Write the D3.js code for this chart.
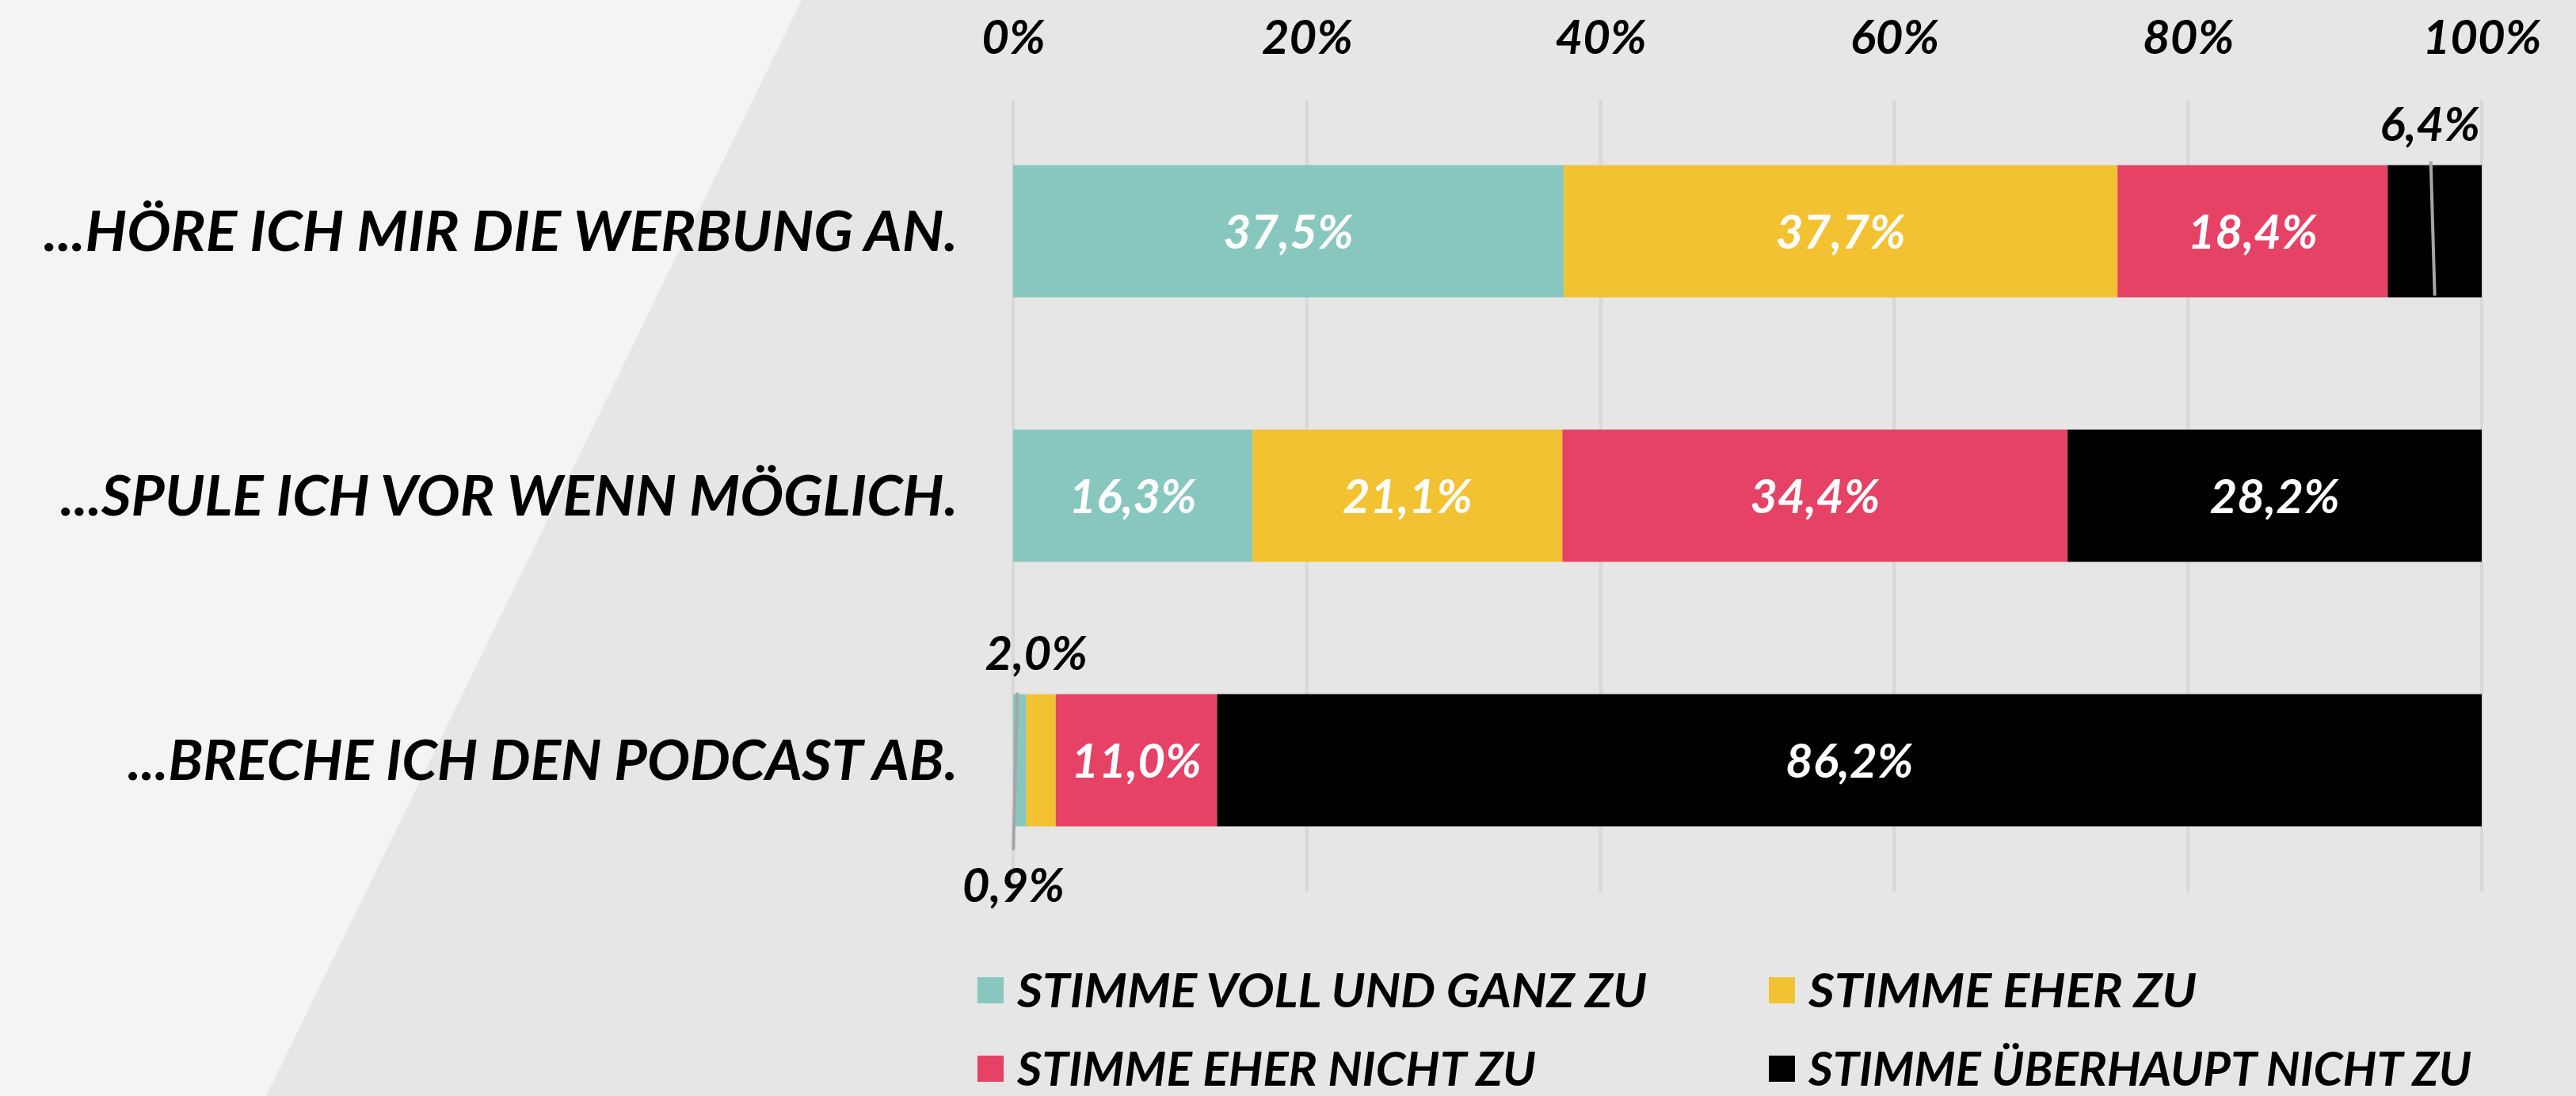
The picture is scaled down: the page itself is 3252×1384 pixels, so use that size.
<!DOCTYPE html>
<html>
<head>
<meta charset="utf-8">
<script src="https://cdn.jsdelivr.net/npm/d3@7"></script>
<style>
  html, body { margin: 0; padding: 0; background: #e6e6e6; }
  svg { display: block; }
  text { font-family: "Lato", "Open Sans", sans-serif; font-style: italic; font-weight: 700; }
</style>
</head>
<body>
<div id="chart"></div>
<script>
// Podcast-Werbung: Zustimmung je Aussage
const categories = [
  "...HÖRE ICH MIR DIE WERBUNG AN.",
  "...SPULE ICH VOR WENN MÖGLICH.",
  "...BRECHE ICH DEN PODCAST AB."
]
const seriesNames = [
  "STIMME VOLL UND GANZ ZU",
  "STIMME EHER ZU",
  "STIMME EHER NICHT ZU",
  "STIMME ÜBERHAUPT NICHT ZU"
]
const vollUndGanz = [37.5, 16.3, 0.9]
const eherZu = [37.7, 21.1, 2.0]
const eherNicht = [18.4, 34.4, 11.0]
const ueberhauptNicht = [6.4, 28.2, 86.2]
const tickValues = [0, 20, 40, 60, 80, 100]

const colors = ["#88c7bd", "#f2c232", "#e54265", "#000000"]

const width = 3252
const height = 1384

const svg = d3.select("#chart")
  .append("svg")
  .attr("width", width)
  .attr("height", height)

// background: light wedge on the left, grey panel on the right
svg.append("rect").attr("width", width).attr("height", height).attr("fill", "#e6e6e6")
svg.append("path")
  .attr("d", "M0,0 L1012,0 L336,1384 L0,1384 Z")
  .attr("fill", "#f4f4f4")

const x = d3.scaleLinear().domain([0, 100]).range([1279, 3133])
const y = d3.scaleBand().domain(categories).range([125, 1127]).paddingInner(0.5).paddingOuter(0.25)

// gridlines
svg.append("g")
  .selectAll("line")
  .data(tickValues)
  .join("line")
  .attr("x1", d => x(d))
  .attr("x2", d => x(d))
  .attr("y1", 126)
  .attr("y2", 1127)
  .attr("stroke", "#d8d8d8")
  .attr("stroke-width", 4)

// top axis labels
const axis = d3.axisTop(x)
  .tickValues(tickValues)
  .tickFormat(d => d + "%")
  .tickSize(0)
  .tickPadding(0)

const axisG = svg.append("g")
  .attr("transform", "translate(0,68)")
  .call(axis)
axisG.select(".domain").remove()
axisG.selectAll("text")
  .attr("fill", "#000")
  .attr("font-size", "60px")
  .attr("font-family", null)
  .attr("dy", 0)

// stacked rows
const rows = categories.map((c, i) => {
  const vals = [vollUndGanz[i], eherZu[i], eherNicht[i], ueberhauptNicht[i]]
  const total = d3.sum(vals)
  let acc = 0
  return vals.map((v, s) => {
    const x0 = acc / total * 100
    acc += v
    return { cat: c, row: i, series: s, value: v, x0, x1: acc / total * 100 }
  })
})

const segs = rows.flat()

svg.append("g")
  .selectAll("rect")
  .data(segs)
  .join("rect")
  .attr("x", d => x(d.x0))
  .attr("y", d => y(d.cat))
  .attr("width", d => x(d.x1) - x(d.x0))
  .attr("height", y.bandwidth())
  .attr("fill", d => colors[d.series])

const fmt = v => v.toFixed(1).replace(".", ",") + "%"

// labels for segments wide enough to hold them
svg.append("g")
  .selectAll("text")
  .data(segs.filter(d => d.value >= 10))
  .join("text")
  .attr("x", d => x((d.x0 + d.x1) / 2))
  .attr("y", d => y(d.cat) + y.bandwidth() / 2 + 22)
  .attr("text-anchor", "middle")
  .attr("fill", "#fff")
  .attr("font-size", "60px")
  .text(d => fmt(d.value))

// small segments: labels outside, some with a leader line
const outside = [
  { row: 0, series: 3, side: "above", leader: true },
  { row: 2, series: 1, side: "above", leader: false },
  { row: 2, series: 0, side: "below", leader: true }
]

outside.forEach(o => {
  const d = rows[o.row][o.series]
  const cx = x((d.x0 + d.x1) / 2)
  const top = y(d.cat)
  const bottom = top + y.bandwidth()
  if (o.leader) {
    if (o.side === "above") {
      svg.append("line")
        .attr("x1", cx - 5).attr("y1", top - 5)
        .attr("x2", cx).attr("y2", bottom - 2)
        .attr("stroke", "#a6a6a6").attr("stroke-width", 4)
    } else {
      svg.append("line")
        .attr("x1", cx - 3).attr("y1", top - 2)
        .attr("x2", cx - 8).attr("y2", bottom + 30)
        .attr("stroke", "#a6a6a6").attr("stroke-width", 4)
    }
  }
  svg.append("text")
    .attr("x", o.side === "above" ? cx - 6 : cx - 8)
    .attr("y", o.side === "above" ? top - 31 : bottom + 95)
    .attr("text-anchor", "middle")
    .attr("fill", "#000")
    .attr("font-size", "60px")
    .text(fmt(d.value))
})

// category labels
const catWidths = [1154, 1133, 1048]
svg.append("g")
  .selectAll("text")
  .data(categories)
  .join("text")
  .attr("x", 1209)
  .attr("y", d => y(d) + y.bandwidth() / 2 + 25)
  .attr("text-anchor", "end")
  .attr("fill", "#000")
  .attr("font-size", "70px")
  .attr("textLength", (d, i) => catWidths[i])
  .attr("lengthAdjust", "spacingAndGlyphs")
  .text(d => d)

// legend
const legendPos = [[1234, 1234], [2233, 1234], [1234, 1333], [2233, 1333]]
const legendWidths = [795, 490, 655, 837]
const legend = svg.append("g")
  .selectAll("g")
  .data(seriesNames)
  .join("g")
  .attr("transform", (d, i) => `translate(${legendPos[i][0]},${legendPos[i][1]})`)

legend.append("rect")
  .attr("width", 33)
  .attr("height", 33)
  .attr("fill", (d, i) => colors[i])

legend.append("text")
  .attr("x", 50)
  .attr("y", 38)
  .attr("fill", "#000")
  .attr("font-size", "60px")
  .attr("textLength", (d, i) => legendWidths[i])
  .attr("lengthAdjust", "spacingAndGlyphs")
  .text(d => d)
</script>
</body>
</html>
